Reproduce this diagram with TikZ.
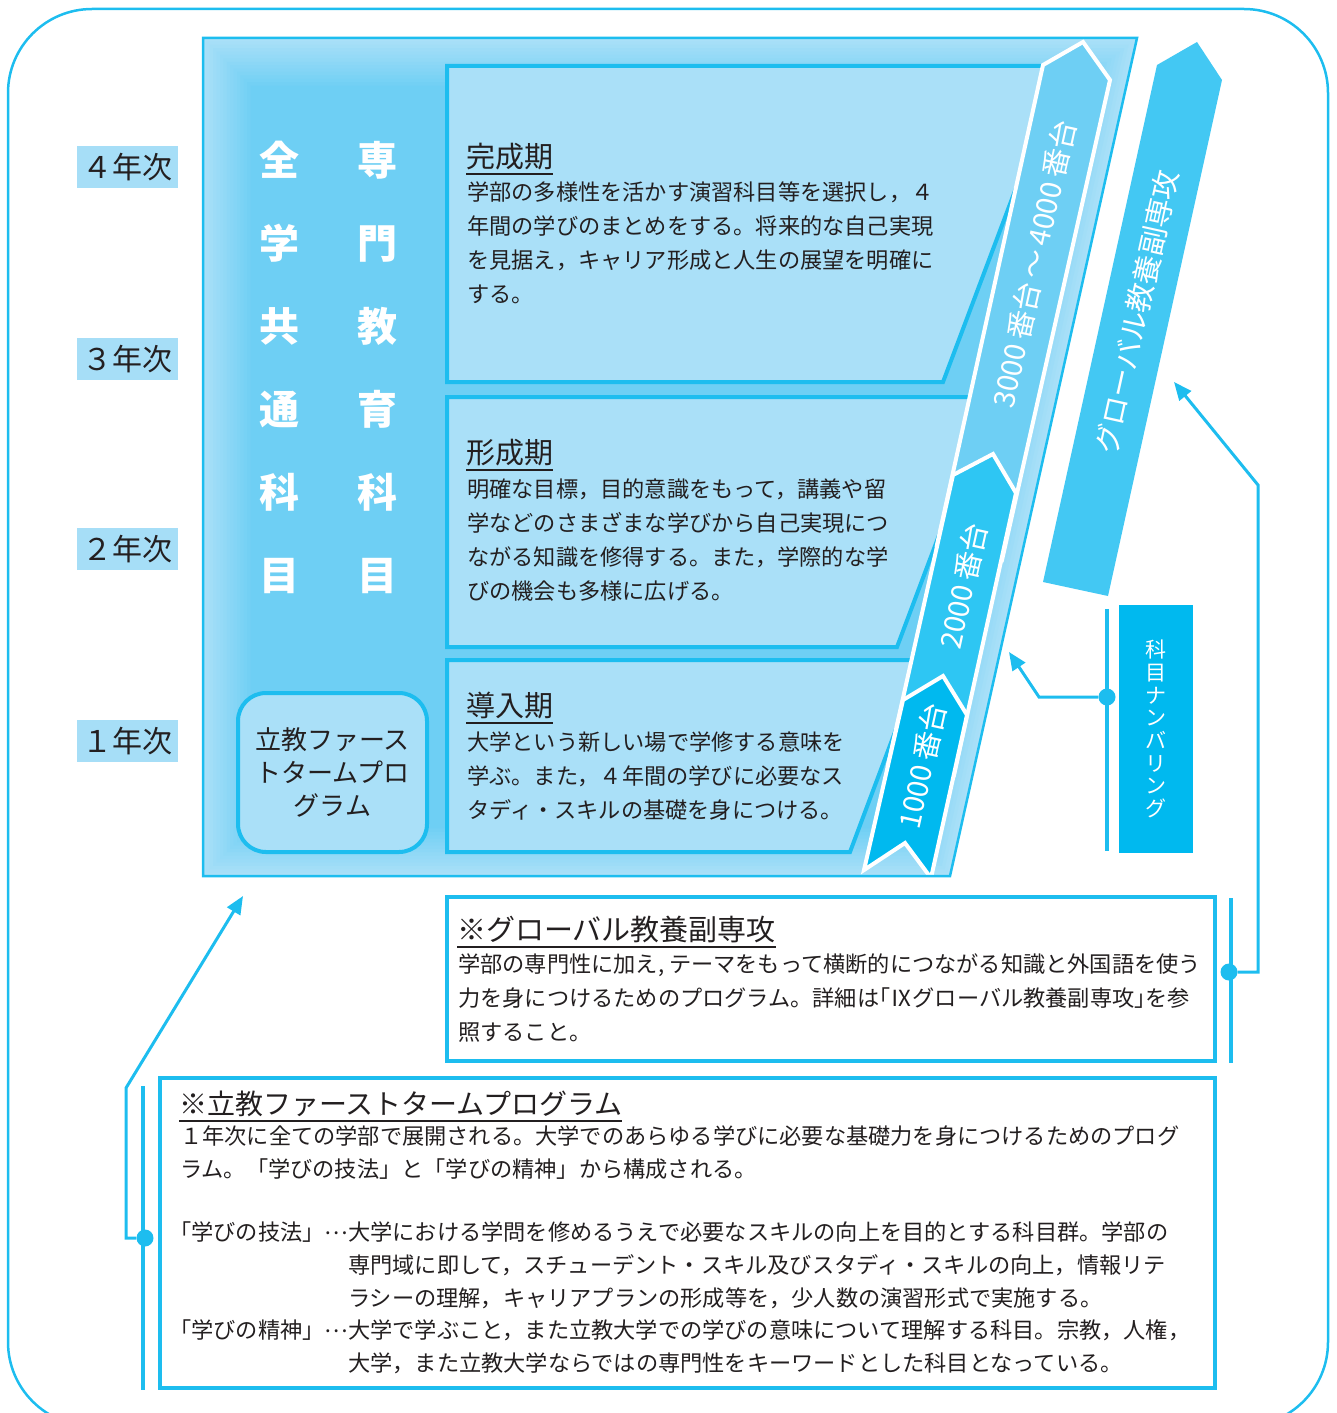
\documentclass[tikz,border=0pt]{standalone}
\usepackage{fontspec}
\setmainfont{Noto Sans CJK JP}
\usetikzlibrary{arrows.meta,positioning}

\definecolor{cy}{RGB}{29,189,239}
\definecolor{lt}{RGB}{170,224,248}
\definecolor{md}{RGB}{110,207,244}
\definecolor{rbtwo}{RGB}{46,198,243}
\definecolor{rbone}{RGB}{0,185,239}
\definecolor{gl}{RGB}{67,200,243}
\definecolor{yr}{RGB}{166,222,247}
\definecolor{ink}{RGB}{35,31,32}

\newcommand\ttlu[1]{\setbox0\hbox{#1}\rlap{\rule[-7pt]{\wd0}{1.8pt}}\box0}
\newcommand\mdots{\raisebox{.3em}{…}}

\begin{document}
\begin{tikzpicture}[x=1pt,y=-1pt,
  every node/.style={inner sep=0pt,text=ink},
  ph/.style={fill=lt,draw=cy,line width=4pt},
  rib/.style={draw=white,line width=4pt,line join=miter},
  rl/.style={text=white,rotate=77.5,font=\fontsize{29}{29}\selectfont},
  yl/.style={fill=yr,minimum width=101pt,minimum height=42pt,font=\fontsize{30}{30}\selectfont},
  colw/.style={text=white,align=center,font=\fontsize{40}{83}\selectfont\bfseries},
  txt/.style={anchor=north west,align=left,font=\fontsize{22.2}{34}\selectfont},
  ttl/.style={anchor=north west,font=\fontsize{29}{29}\selectfont},
  note/.style={draw=cy,line width=4pt,fill=white},
  vbar/.style={cy,line width=4pt},
  con/.style={cy,line width=3pt,-{Triangle[length=18pt,width=15pt]}},
  jdot/.style={circle,fill=cy,minimum size=17pt}
]
\useasboundingbox (0,0) rectangle (1336,1413);
\draw[cy,line width=2.5pt,rounded corners=84pt] (8,9) rectangle (1328,1426);

% year labels
\node[yl] (y4) at (127.5,167) {４年次};
\node[yl] (y3) at (127.5,359) {３年次};
\node[yl] (y2) at (127.5,549) {２年次};
\node[yl] (y1) at (127.5,741) {１年次};

% main block with soft inner shade
\foreach \i in {0,...,14}{
  \pgfmathtruncatemacro\p{100*\i/14}
  \pgfmathsetmacro\d{3.4*\i}
  \fill[md!\p!lt] (203+\d,38+\d) -- (1137-1.25*\d,38+\d) -- (950-0.8*\d,876-\d) -- (203+\d,876-\d) -- cycle;
}

% phases
\draw[ph] (447,66) -- (1062,66) -- (943,382) -- (447,382) -- cycle;
\draw[ph] (447,397) -- (991,397) -- (897,647) -- (447,647) -- cycle;
\draw[ph] (447,660) -- (922,660) -- (850,852) -- (447,852) -- cycle;

% course numbers
\filldraw[rib,fill=md] (1043,65) -- (1083,42) -- (1110,80) -- (1002,560) -- (937,545) -- cycle;
\filldraw[rib,fill=rbtwo] (953,475) -- (993,454) -- (1016,493) -- (954,775) -- (888,765) -- cycle;
\filldraw[rib,fill=rbone] (903,700) -- (943,676) -- (967,715) -- (931,878) -- (905,843) -- (864,870) -- cycle;
\node[rl] (n34) at (1034,264) {3000\,番台\,～\,4000\,番台};
\node[rl] (n2) at (963,586) {2000\,番台};
\node[rl] (n1) at (922,766) {1000\,番台};

\draw[cy,line width=2.5pt] (203,38) -- (1137,38) -- (950,876) -- (203,876) -- cycle;

\node[colw] (zk) at (279,367.5) {全\\学\\共\\通\\科\\目};
\node[colw] (sk) at (377,367.5) {専\\門\\教\\育\\科\\目};

\node[draw=cy,line width=4pt,fill=lt,rounded corners=28pt,minimum width=189pt,minimum height=159pt,
  align=center,font=\fontsize{26}{33}\selectfont] (ftp) at (332.5,772.5) {立教ファース\\トタームプロ\\グラム};

\node[ttl] (t3) at (466,143) {\ttlu{完成期}};
\node[txt] (b3) at (467,182) {学部の多様性を活かす演習科目等を選択し，４\\
年間の学びのまとめをする。将来的な自己実現\\
を見据え，キャリア形成と人生の展望を明確に\\
する。};
\node[ttl] (t2) at (466,439) {\ttlu{形成期}};
\node[txt] (b2) at (467,479) {明確な目標，目的意識をもって，講義や留\\
学などのさまざまな学びから自己実現につ\\
ながる知識を修得する。また，学際的な学\\
びの機会も多様に広げる。};
\node[ttl] (t1) at (466,692) {\ttlu{導入期}};
\node[txt] (b1) at (467,732) {大学という新しい場で学修する意味を\\
学ぶ。また，４年間の学びに必要なス\\
タディ・スキルの基礎を身につける。};

% global minor
\fill[gl] (1157,65) -- (1197,42) -- (1222,80) -- (1108,596) -- (1043,582) -- cycle;
\node[rl] (gm) at (1137,312) {グローバル教養副専攻};

% numbering
\node[fill=rbone,minimum width=74pt,minimum height=248pt,text=white,align=center,
  font=\fontsize{21}{22.7}\selectfont] (nb) at (1156,729) {科\\目\\ナ\\ン\\バ\\リ\\ン\\グ};
\draw[vbar] ([xshift=-12pt,yshift=-4pt]nb.north west) -- ([xshift=-12pt,yshift=2pt]nb.south west);
\node[jdot] (nbD) at (1107,697) {};
\coordinate (nbA) at (1009,652);
\draw[con] (nbD) -- ++(-68,0) -- (nbA);

% notes
\node[note,minimum width=768pt,minimum height=164pt] (gb) at (831,979) {};
\node[ttl] (gt) at (457,916) {\ttlu{※グローバル教養副専攻}};
\node[txt] (gx) at (458,954) {学部の専門性に加え, テーマをもって横断的につながる知識と外国語を使う\\
力を身につけるためのプログラム。詳細は｢Ⅸグローバル教養副専攻｣を参\\
照すること。};
\draw[vbar] ([xshift=14pt,yshift=-3pt]gb.north east) -- ([xshift=14pt]gb.south east);
\node[jdot] (glD) at (1229,972) {};
\coordinate (glA) at (1174,382);
\draw[con] (glD) -| (1258,485) -- (glA);

\node[note,minimum width=1055pt,minimum height=310pt] (fb) at (687.5,1233) {};
\node[ttl,font=\fontsize{28}{28}\selectfont] (ft) at (179,1091) {\ttlu{※立教ファーストタームプログラム}};
\node[txt,font=\fontsize{22.2}{32.7}\selectfont] (fx) at (180,1126) {１年次に全ての学部で展開される。大学でのあらゆる学びに必要な基礎力を身につけるためのプログ\\
ラム。「学びの技法」と「学びの精神」から構成される。};
\node[txt] (la) at (169,1222) {「学びの技法」\mdots};
\node[txt,font=\fontsize{22.2}{32.7}\selectfont] (lb) at (348,1222) {大学における学問を修めるうえで必要なスキルの向上を目的とする科目群。学部の\\
専門域に即して，スチューデント・スキル及びスタディ・スキルの向上，情報リテ\\
ラシーの理解，キャリアプランの形成等を，少人数の演習形式で実施する。};
\node[txt] (lc) at (169,1320) {「学びの精神」\mdots};
\node[txt,font=\fontsize{22.2}{32.7}\selectfont] (ld) at (348,1320) {大学で学ぶこと，また立教大学での学びの意味について理解する科目。宗教，人権，\\
大学，また立教大学ならではの専門性をキーワードとした科目となっている。};
\draw[vbar] ([xshift=-15pt,yshift=-10pt]fb.north west) -- ([xshift=-15pt]fb.south west);
\node[jdot] (fbD) at (145,1238) {};
\coordinate (fbA) at (243,896);
\draw[con] (fbD) -- ++(-19,0) -- ++(0,-150) -- (fbA);
\end{tikzpicture}
\end{document}
